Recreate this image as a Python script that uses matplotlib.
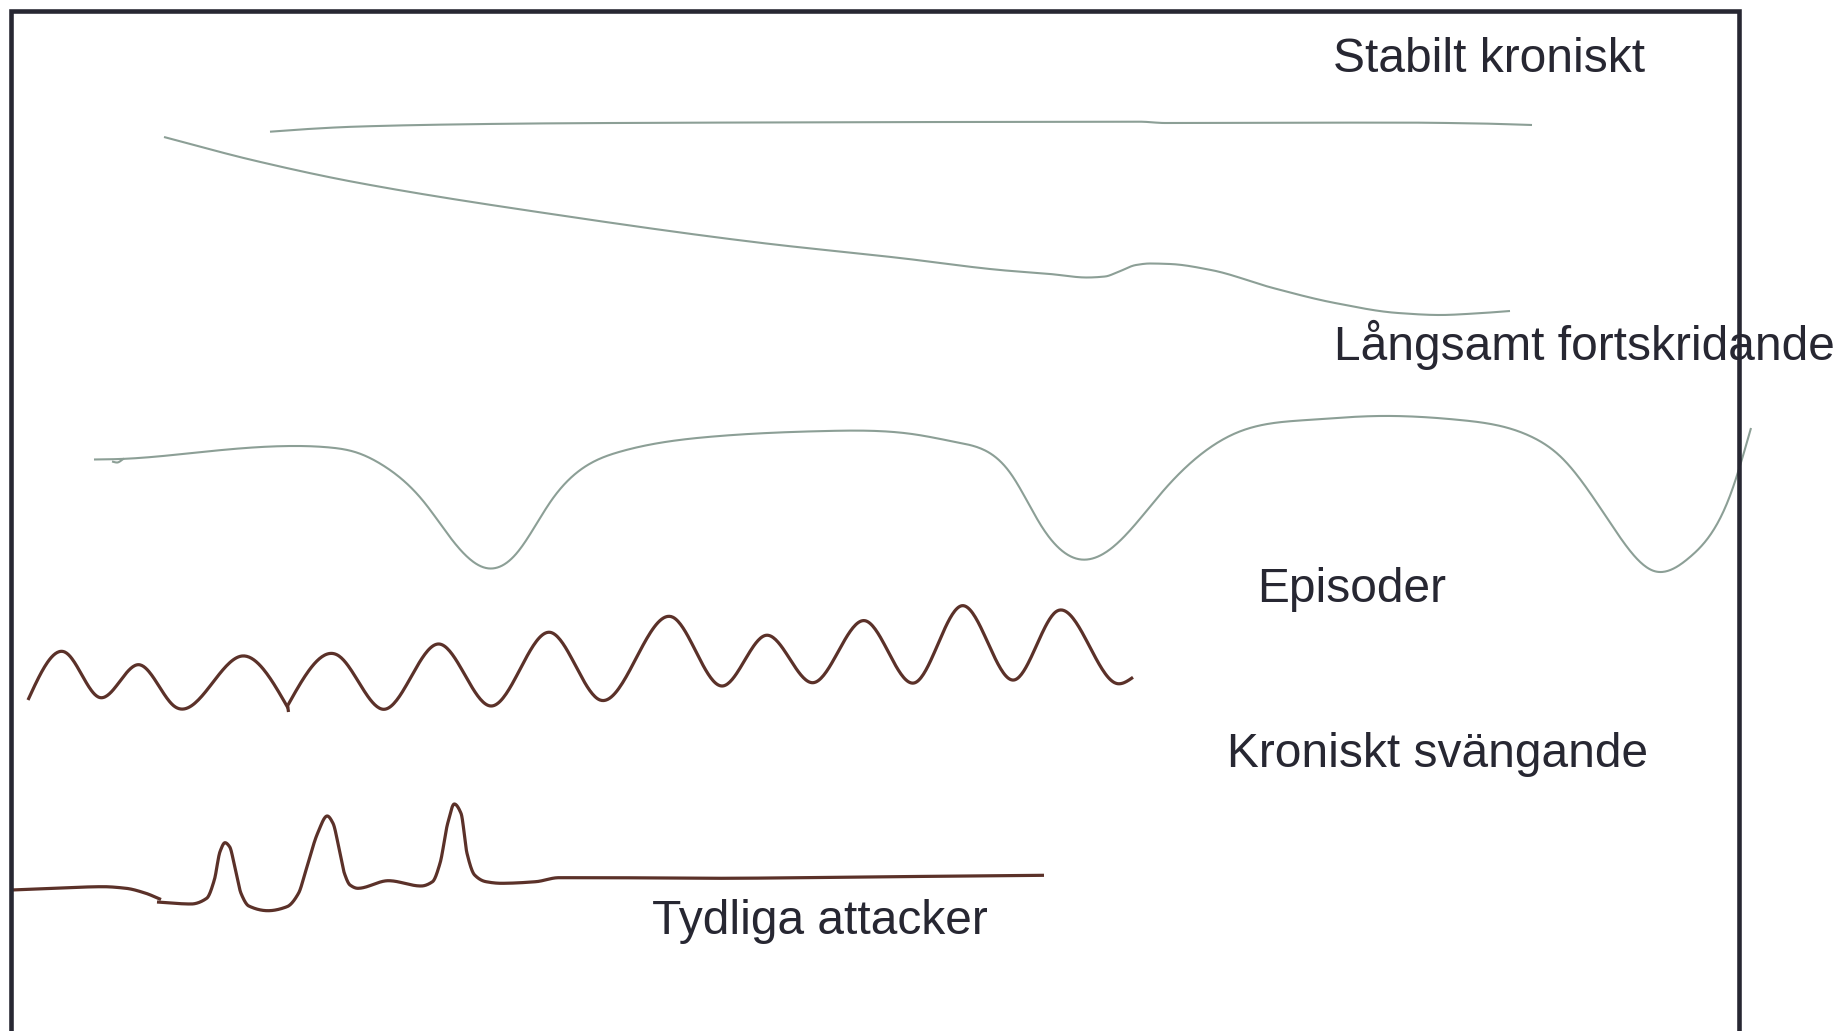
import numpy as np
import matplotlib
matplotlib.use("Agg")
import matplotlib.pyplot as plt

# ---------------- data (x = time position, y = level, sketch units; y grows downward) -------------
stable_x = [270, 300, 354, 450, 558, 750, 950, 1140, 1165, 1300, 1400, 1480, 1532]
stable_y = [131.7, 129.5, 126.7, 124.5, 123.3, 122.5, 122.0, 121.7, 123.0, 122.7, 122.6, 123.5, 125.0]

slow_x = [164, 252, 354, 558, 762, 900, 1000, 1050, 1087, 1105, 1118, 1136, 1150, 1170, 1211, 1273,
          1335, 1398, 1440, 1475, 1510]
slow_y = [137, 160, 182, 215, 243, 258, 270, 274, 277.5, 276.5, 272, 265, 263.5, 264, 270, 288,
          303, 313, 315, 313.5, 311]

episode_x = [94, 120, 195, 292, 330, 355, 384, 424, 453, 486, 516, 551, 597, 620, 711, 826, 912, 958,
             1011, 1042, 1078, 1113, 1164, 1236, 1307, 1379, 1460, 1532, 1562, 1613, 1654, 1690, 1731, 1751]
episode_y = [459.5, 459, 452.7, 446, 447.5, 452, 466, 502, 541, 568, 554, 501, 460, 451.7, 436.7, 431,
             434, 442.5, 474, 527, 559, 547, 490, 433, 420, 416, 420, 437, 458, 527, 571, 557, 493, 428]
episode_hook_x = [112, 117, 124]
episode_hook_y = [461.5, 462.5, 458.5]

osc1_x = [28, 66, 99, 139, 174, 242, 288]
osc1_y = [700, 652.7, 697.3, 664.7, 706, 656, 708]
osc2_x = [288, 339, 384, 439, 491, 550, 600, 673, 722, 766, 813, 865, 915, 962, 1014, 1056, 1116, 1133]
osc2_y = [705, 656, 709.3, 644, 706, 632.3, 700, 617.3, 686, 635.3, 682.7, 620.7, 682.7, 605.7, 680,
          611.7, 683.3, 677.3]
osc_tick_x = [287.5, 288.5]
osc_tick_y = [705, 712]

attack1_x = [11.5, 60, 103, 126, 145, 161]
attack1_y = [890, 888, 886.7, 888.3, 893, 899.5]
attack2_x = [157, 191, 206.7, 214.3, 220, 225, 229.6, 235.4, 241, 248.8, 268, 287, 298.5, 306, 317.6,
             327.2, 333, 338.7, 344.4, 350, 357.8, 388.4, 421, 432.5, 440, 447.7, 454.3, 461, 467,
             474.6, 486, 501.3, 535.8, 558.7, 600, 712, 891, 1044]
attack2_y = [902, 904, 898.3, 880, 851.7, 842.7, 846.7, 870, 893.3, 906, 910.7, 906.7, 893.3, 870, 833.3,
             816, 823.3, 846.7, 873.3, 885, 888.3, 880.7, 886, 881.7, 863.3, 823.3, 804, 813.3, 853.3,
             875, 881.7, 883.3, 881.7, 877.7, 877.7, 878.3, 876.7, 875.3]

labels = ["Stabilt kroniskt", "Långsamt fortskridande", "Episoder", "Kroniskt svängande", "Tydliga attacker"]
label_x = [1333, 1334, 1257, 1227, 652]
label_y = [72, 360, 602, 767, 934]

frame_x = [11, 11, 1738.5, 1738.5]
frame_y = [1040, 10.5, 10.5, 1040]

# ---------------- style ----------------
GREEN = "#8c9f96"
BROWN = "#5b3129"
DARK = "#272732"


def stroke(xs, ys, n=40):
    """Monotone cubic Hermite rendering of a hand-drawn stroke through the given points."""
    x = np.asarray(xs, float)
    y = np.asarray(ys, float)
    if len(x) < 3:
        return x, y
    h = np.diff(x)
    d = np.diff(y) / h
    m = np.zeros_like(x)
    for i in range(1, len(x) - 1):
        if d[i - 1] * d[i] > 0:
            w1 = 2 * h[i] + h[i - 1]
            w2 = h[i] + 2 * h[i - 1]
            m[i] = (w1 + w2) / (w1 / d[i - 1] + w2 / d[i])
    m[0] = d[0]
    m[-1] = d[-1]
    X, Y = [], []
    for i in range(len(x) - 1):
        t = np.linspace(0, 1, n)
        if i > 0:
            t = t[1:]
        h00 = 2 * t**3 - 3 * t**2 + 1
        h10 = t**3 - 2 * t**2 + t
        h01 = -2 * t**3 + 3 * t**2
        h11 = t**3 - t**2
        X.append(x[i] + t * h[i])
        Y.append(h00 * y[i] + h10 * h[i] * m[i] + h01 * y[i + 1] + h11 * h[i] * m[i + 1])
    return np.concatenate(X), np.concatenate(Y)


def wave(xs, ys, n=40):
    """Natural cubic spline rendering (C2-smooth) of a wavy stroke through the given points."""
    x = np.asarray(xs, float)
    y = np.asarray(ys, float)
    k = len(x)
    h = np.diff(x)
    d = np.diff(y) / h
    A = np.zeros((k, k))
    b = np.zeros(k)
    A[0, 0] = A[-1, -1] = 1.0
    for i in range(1, k - 1):
        A[i, i - 1] = h[i - 1]
        A[i, i] = 2 * (h[i - 1] + h[i])
        A[i, i + 1] = h[i]
        b[i] = 6 * (d[i] - d[i - 1])
    M = np.linalg.solve(A, b)
    X, Y = [], []
    for i in range(k - 1):
        t = np.linspace(x[i], x[i + 1], n)
        if i > 0:
            t = t[1:]
        hi = h[i]
        s = (M[i] * (x[i + 1] - t) ** 3 / (6 * hi) + M[i + 1] * (t - x[i]) ** 3 / (6 * hi)
             + (y[i] / hi - M[i] * hi / 6) * (x[i + 1] - t) + (y[i + 1] / hi - M[i + 1] * hi / 6) * (t - x[i]))
        X.append(t)
        Y.append(s)
    return np.concatenate(X), np.concatenate(Y)


fig = plt.figure(figsize=(18.34, 10.31), dpi=100)
ax = fig.add_axes([0, 0, 1, 1])
ax.set_xlim(0, 1834)
ax.set_ylim(1031, 0)
ax.axis("off")

ax.plot(frame_x, frame_y, color=DARK, lw=3.3, solid_joinstyle="miter", zorder=3)

for xs, ys, f in [(stable_x, stable_y, stroke), (slow_x, slow_y, stroke),
                  (episode_x, episode_y, wave), (episode_hook_x, episode_hook_y, stroke)]:
    sx, sy = f(xs, ys)
    ax.plot(sx, sy, color=GREEN, lw=1.5, solid_capstyle="butt", zorder=2)

for xs, ys, f in [(osc1_x, osc1_y, wave), (osc2_x, osc2_y, wave), (osc_tick_x, osc_tick_y, stroke),
                  (attack1_x, attack1_y, stroke), (attack2_x, attack2_y, stroke)]:
    sx, sy = f(xs, ys)
    ax.plot(sx, sy, color=BROWN, lw=2.3, solid_capstyle="butt", zorder=2)

for txt, x, y in zip(labels, label_x, label_y):
    ax.text(x, y, txt, ha="left", va="baseline", fontsize=34.5,
            family=["Liberation Sans", "DejaVu Sans"], color=DARK, zorder=4)

fig.savefig("out.png", dpi=100, facecolor="white")
